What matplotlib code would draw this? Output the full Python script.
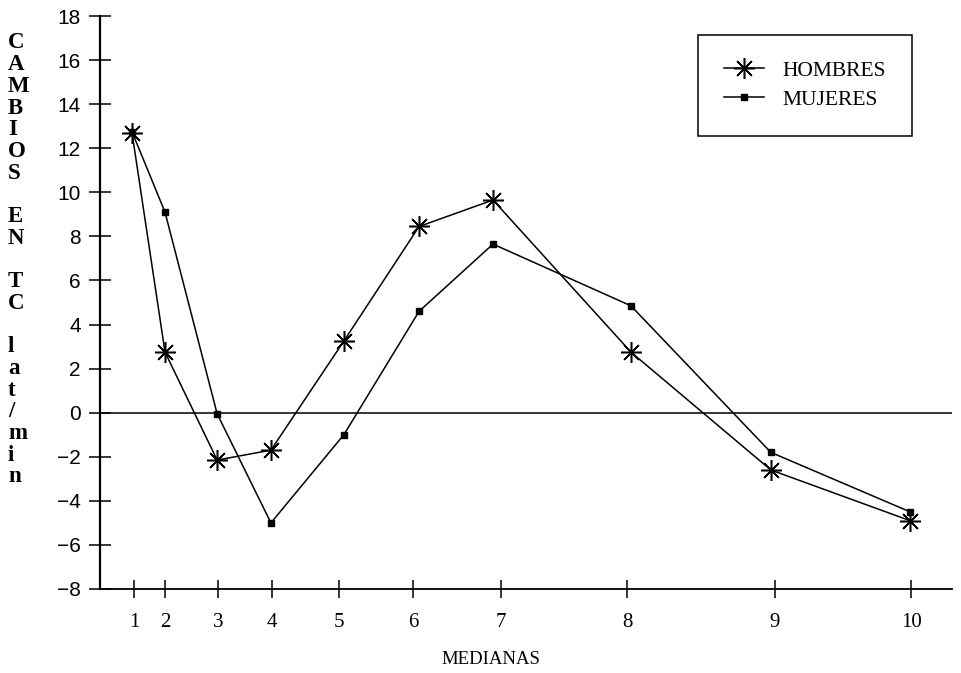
from matplotlib import pyplot as plt

# medianas (posicion en el eje) y cambios en TC (lat/min)
medianas = ['1', '2', '3', '4', '5', '6', '7', '8', '9', '10']
xpos = [0.97, 1.97, 3.55, 5.18, 7.39, 9.67, 11.91, 16.09, 20.33, 24.55]
xticks = [1.03, 1.97, 3.58, 5.21, 7.24, 9.48, 12.15, 15.97, 20.45, 24.58]
hombres = [12.7, 2.75, -2.15, -1.7, 3.25, 8.45, 9.65, 2.75, -2.6, -4.9]
mujeres = [12.75, 9.1, -0.05, -5.0, -1.0, 4.6, 7.65, 4.85, -1.8, -4.5]

W, H = 961, 673
fig = plt.figure(figsize=(W / 100, H / 100), dpi=100)
ax = fig.add_axes([100 / W, 84 / H, 852 / W, 573 / H])

ax.plot(xpos, mujeres, color='black', lw=1.1, marker='s', ms=3.8,
        label='MUJERES', zorder=3)
ax.plot(xpos, hombres, color='black', lw=1.1, marker=(8, 2, 0), ms=15,
        mew=1.1, label='HOMBRES', zorder=4)
ax.axhline(0, color='black', lw=1.1, zorder=1)

ax.set_xlim(0, 25.82)
ax.set_ylim(-8, 18)
ax.set_yticks(range(-8, 19, 2))
ax.set_xticks(xticks)
ax.set_xticklabels(medianas, family='Liberation Serif', fontsize=15)
for lab in ax.get_yticklabels():
    lab.set_family('Liberation Sans')
    lab.set_fontsize(15)

for s in ['top', 'right']:
    ax.spines[s].set_visible(False)
ax.spines['left'].set_linewidth(1.6)
ax.spines['bottom'].set_linewidth(1.3)
ax.tick_params(axis='y', direction='inout', length=15.8, width=1.1, pad=6.0)
ax.tick_params(axis='x', direction='inout', length=13, width=1.1, pad=11)

# titulo vertical del eje y, letra por letra
ylab = ['C', 'A', 'M', 'B', 'I', 'O', 'S', '', 'E', 'N', '', 'T', 'C', '',
        'l', 'a', 't', '/', 'm', 'i', 'n']
for i, ch in enumerate(ylab):
    if ch:
        fig.text(8 / W, 1 - (43 + i * 21.7) / H, ch, ha='left', va='center',
                 family='Liberation Serif', weight='bold', fontsize=16.5)

fig.text(491 / W, 1 - 659 / H, 'MEDIANAS', ha='center', va='center',
         family='Liberation Serif', fontsize=13.5)

handles, labels = ax.get_legend_handles_labels()
leg = ax.legend(handles[::-1], labels[::-1], loc='upper left',
                bbox_to_anchor=(698 / W, 1 - 35 / H),
                bbox_transform=fig.transFigure, borderaxespad=0,
                prop={'family': 'Liberation Serif', 'size': 15.5},
                fancybox=False, framealpha=1, edgecolor='black',
                borderpad=1.2, labelspacing=0.42, handlelength=1.86,
                handletextpad=0.88)
leg.get_frame().set_linewidth(1.1)

plt.savefig('out.png', dpi=100)
plt.close()
